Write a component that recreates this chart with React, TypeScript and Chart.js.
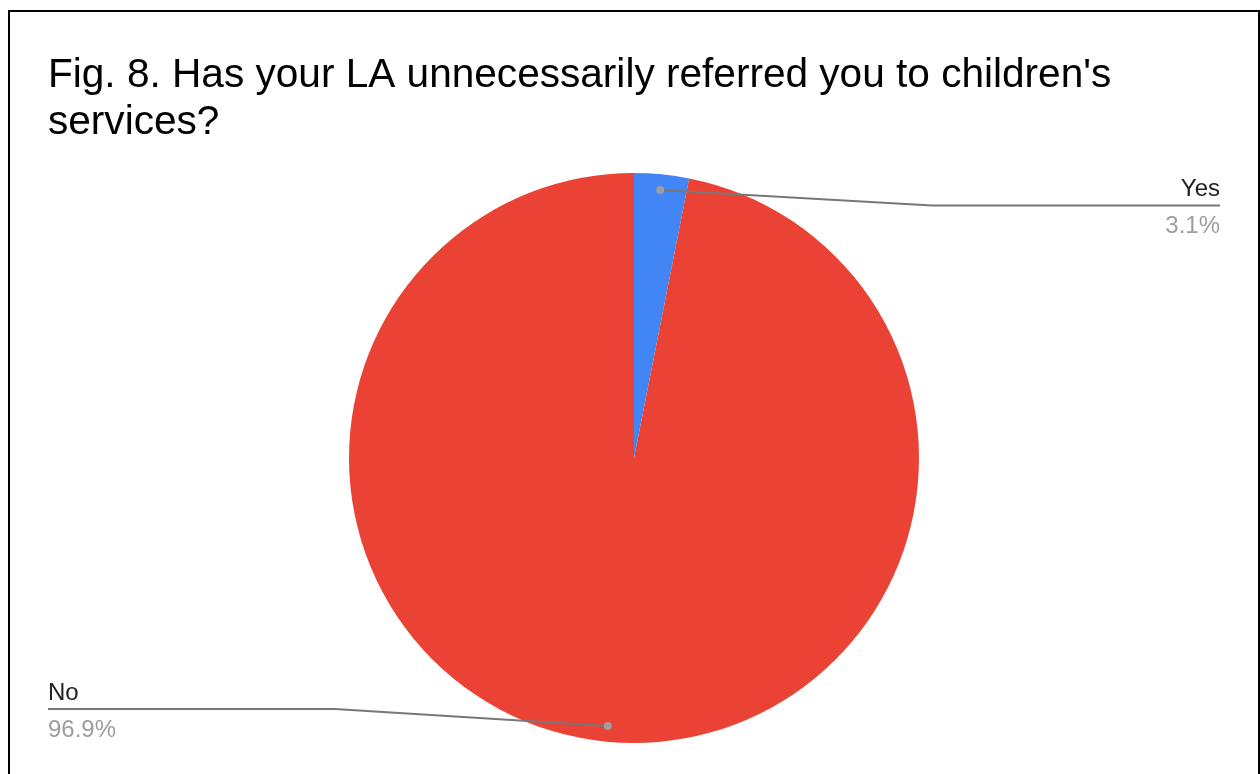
import React, { useEffect, useRef } from "react";
import { Chart, registerables } from "chart.js";

Chart.register(...registerables);

const titleLines = ["Fig. 8. Has your LA unnecessarily referred you to children's", "services?"];
const categories = ["Yes", "No"];
const values = [3.1, 96.9];
const percentLabels = ["3.1%", "96.9%"];
const colors = ["#4285F4", "#EA4335"];

const FONT = "Arial, 'Liberation Sans', sans-serif";

const overlayPlugin = {
  id: "overlay",
  afterDraw(chart: any) {
    const ctx = chart.ctx as CanvasRenderingContext2D;
    ctx.save();
    // title
    ctx.fillStyle = "#000000";
    ctx.font = `40.6px ${FONT}`;
    ctx.textAlign = "left";
    ctx.textBaseline = "alphabetic";
    titleLines.forEach((t, i) => ctx.fillText(t, 48, 87 + i * 47));

    const meta = chart.getDatasetMeta(0);
    const area = chart.chartArea;
    meta.data.forEach((arc: any, i: number) => {
      const { x, y, startAngle, endAngle, outerRadius } = arc.getProps(
        ["x", "y", "startAngle", "endAngle", "outerRadius"],
        true
      );
      const mid = (startAngle + endAngle) / 2;
      const r = outerRadius * 0.945;
      const dx = x + Math.cos(mid) * r;
      const dy = y + Math.sin(mid) * r;
      const right = Math.cos(mid) >= 0;
      const lineY = dy < y ? dy + 15.5 : dy - 17;
      const elbowX = right ? area.right + 13 : area.left - 14;
      const endX = right ? 1220 : 48;

      ctx.strokeStyle = "#777777";
      ctx.lineWidth = 2;
      ctx.beginPath();
      ctx.moveTo(dx, dy);
      ctx.lineTo(elbowX, lineY);
      ctx.lineTo(endX, lineY);
      ctx.stroke();

      ctx.fillStyle = "#9e9e9e";
      ctx.beginPath();
      ctx.arc(dx, dy, 4, 0, Math.PI * 2);
      ctx.fill();

      ctx.textAlign = right ? "right" : "left";
      ctx.font = `24px ${FONT}`;
      ctx.fillStyle = "#222222";
      ctx.fillText(categories[i], endX, lineY - 9);
      ctx.fillStyle = "#9e9e9e";
      ctx.fillText(percentLabels[i], endX, lineY + 28);
    });
    ctx.restore();
  },
};

export default function App() {
  const ref = useRef<HTMLCanvasElement | null>(null);
  useEffect(() => {
    if (!ref.current) return;
    const chart = new Chart(ref.current, {
      type: "pie",
      data: {
        labels: categories,
        datasets: [
          {
            data: values,
            backgroundColor: colors,
            borderWidth: 0,
          },
        ],
      },
      options: {
        animation: false,
        responsive: false,
        maintainAspectRatio: false,
        layout: { padding: { left: 349, right: 341, top: 173, bottom: 31 } },
        plugins: {
          legend: { display: false },
          title: { display: false },
          tooltip: { enabled: false },
        },
      },
      plugins: [overlayPlugin],
    });
    return () => {
      chart.destroy();
    };
  }, []);

  return (
    <div style={{ position: "fixed", left: 0, top: 0, width: 1260, height: 774, background: "#ffffff", overflow: "hidden", fontFamily: FONT }}>
      <canvas ref={ref} width={1260} height={774} style={{ position: "absolute", left: 0, top: 0, width: 1260, height: 774 }} />
      <div
        style={{
          position: "absolute",
          left: 8,
          top: 10,
          width: 1248,
          height: 800,
          border: "2px solid #000000",
          pointerEvents: "none",
        }}
      />
    </div>
  );
}
